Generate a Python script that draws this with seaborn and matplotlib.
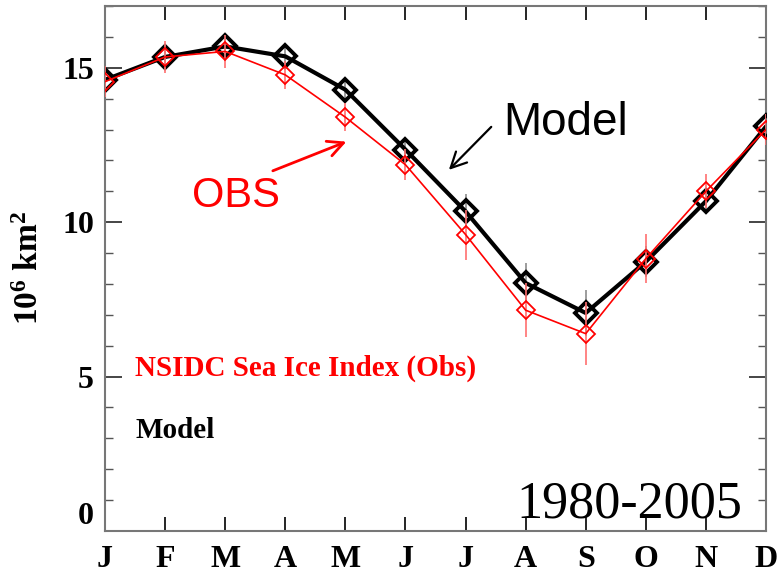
import numpy as np
import pandas as pd
import matplotlib
matplotlib.use("Agg")
import matplotlib.pyplot as plt
import seaborn as sns

# Monthly mean sea-ice extent (10^6 km^2), 1980-2005 climatology
months = ["J", "F", "M", "A", "M", "J", "J", "A", "S", "O", "N", "D"]
model_mean = [14.61, 15.35, 15.69, 15.37, 14.29, 12.35, 10.35, 8.03, 7.06, 8.72, 10.68, 13.10]
model_std = [0.30, 0.35, 0.38, 0.35, 0.35, 0.40, 0.55, 0.66, 0.75, 0.50, 0.40, 0.35]
obs_mean = [14.55, 15.35, 15.53, 14.77, 13.40, 11.86, 9.60, 7.15, 6.39, 8.82, 11.00, 13.00]
obs_std = [0.50, 0.52, 0.54, 0.46, 0.45, 0.50, 0.81, 0.88, 1.03, 0.79, 0.55, 0.50]
y_ticks = [0, 5, 10, 15]

sns.set_style("white")
plt.rcParams["font.family"] = ["Liberation Serif", "DejaVu Serif"]
plt.rcParams["mathtext.fontset"] = "custom"
plt.rcParams["mathtext.rm"] = "Liberation Serif:bold"
plt.rcParams["mathtext.default"] = "rm"

df = pd.DataFrame({
    "month": np.arange(len(months)),
    "model": model_mean,
    "obs": obs_mean,
})

fig = plt.figure(figsize=(7.79, 5.77), dpi=100)
ax = fig.add_axes([105 / 779, 46 / 577, 661 / 779, 525 / 577])

# error bars
ax.errorbar(df["month"], df["model"], yerr=model_std, fmt="none",
            ecolor="#8c8c8c", elinewidth=1.2, capsize=0, zorder=2)
ax.errorbar(df["month"], df["obs"], yerr=obs_std, fmt="none",
            ecolor="#ff7070", elinewidth=1.2, capsize=0, zorder=4)

# model and observations
sns.lineplot(data=df, x="month", y="model", ax=ax, color="black",
             linewidth=3.0, marker="D", markersize=11,
             markerfacecolor="none", markeredgecolor="black",
             markeredgewidth=2.8, zorder=3)
sns.lineplot(data=df, x="month", y="obs", ax=ax, color="#ff0000",
             linewidth=1.2, marker="D", markersize=9.5,
             markerfacecolor="none", markeredgecolor="#ff0000",
             markeredgewidth=1.3, zorder=5)

ax.set_xlim(0, 11)
ax.set_ylim(0, 17)
ax.set_xticks(df["month"])
ax.set_xticklabels(months)
ax.set_yticks(y_ticks)
ax.set_yticklabels([str(v) for v in y_ticks])
ax.set_yticks(np.arange(0, 18, 1), minor=True)
ax.set_xlabel("")
ax.set_ylabel(r"10$^{6}$ km$^{2}$", fontsize=24, fontweight="bold",
              labelpad=12, color="black")

for lab in ax.get_xticklabels() + ax.get_yticklabels():
    lab.set_fontweight("bold")
    lab.set_fontsize(23)
# the bottom label sits just above the axis corner
ax.yaxis.get_major_ticks()[0].label1.set_va("bottom")

ax.tick_params(axis="x", which="major", direction="in", length=10, width=1.2,
               top=True, bottom=True, pad=10, colors="black", labelcolor="black")
ax.tick_params(axis="y", which="major", direction="in", length=12, width=1.2,
               left=True, right=True, pad=8, labelcolor="black")
ax.tick_params(axis="y", which="minor", direction="in", length=6, width=1.0,
               left=True, right=True, color="#555555")
for s in ax.spines.values():
    s.set_color("#777777")
    s.set_linewidth(1.5)

# annotations
ax.annotate("", xy=(5.69, 11.63), xytext=(6.46, 13.15),
            arrowprops=dict(arrowstyle="->", color="black", lw=1.6,
                            mutation_scale=28))
ax.text(6.62, 12.83, "Model", fontsize=33, family="Liberation Sans",
        color="black", va="baseline", ha="left")
ax.annotate("", xy=(4.06, 12.64), xytext=(2.75, 11.63),
            arrowprops=dict(arrowstyle="->", color="#ff0000", lw=2.0,
                            mutation_scale=28))
ax.text(1.45, 10.5, "OBS", fontsize=30, family="Liberation Sans",
        color="#ff0000", va="baseline", ha="left")

ax.text(0.5, 5.03, "NSIDC Sea Ice Index (Obs)", fontsize=21,
        fontweight="bold", color="#ff0000", va="baseline", ha="left")
ax.text(0.5, 3.02, "Model", fontsize=21, fontweight="bold",
        color="black", va="baseline", ha="left")
ax.text(10.6, 0.44, "1980-2005", fontsize=37.5, color="black",
        va="baseline", ha="right")

fig.savefig("out.png", dpi=100)
